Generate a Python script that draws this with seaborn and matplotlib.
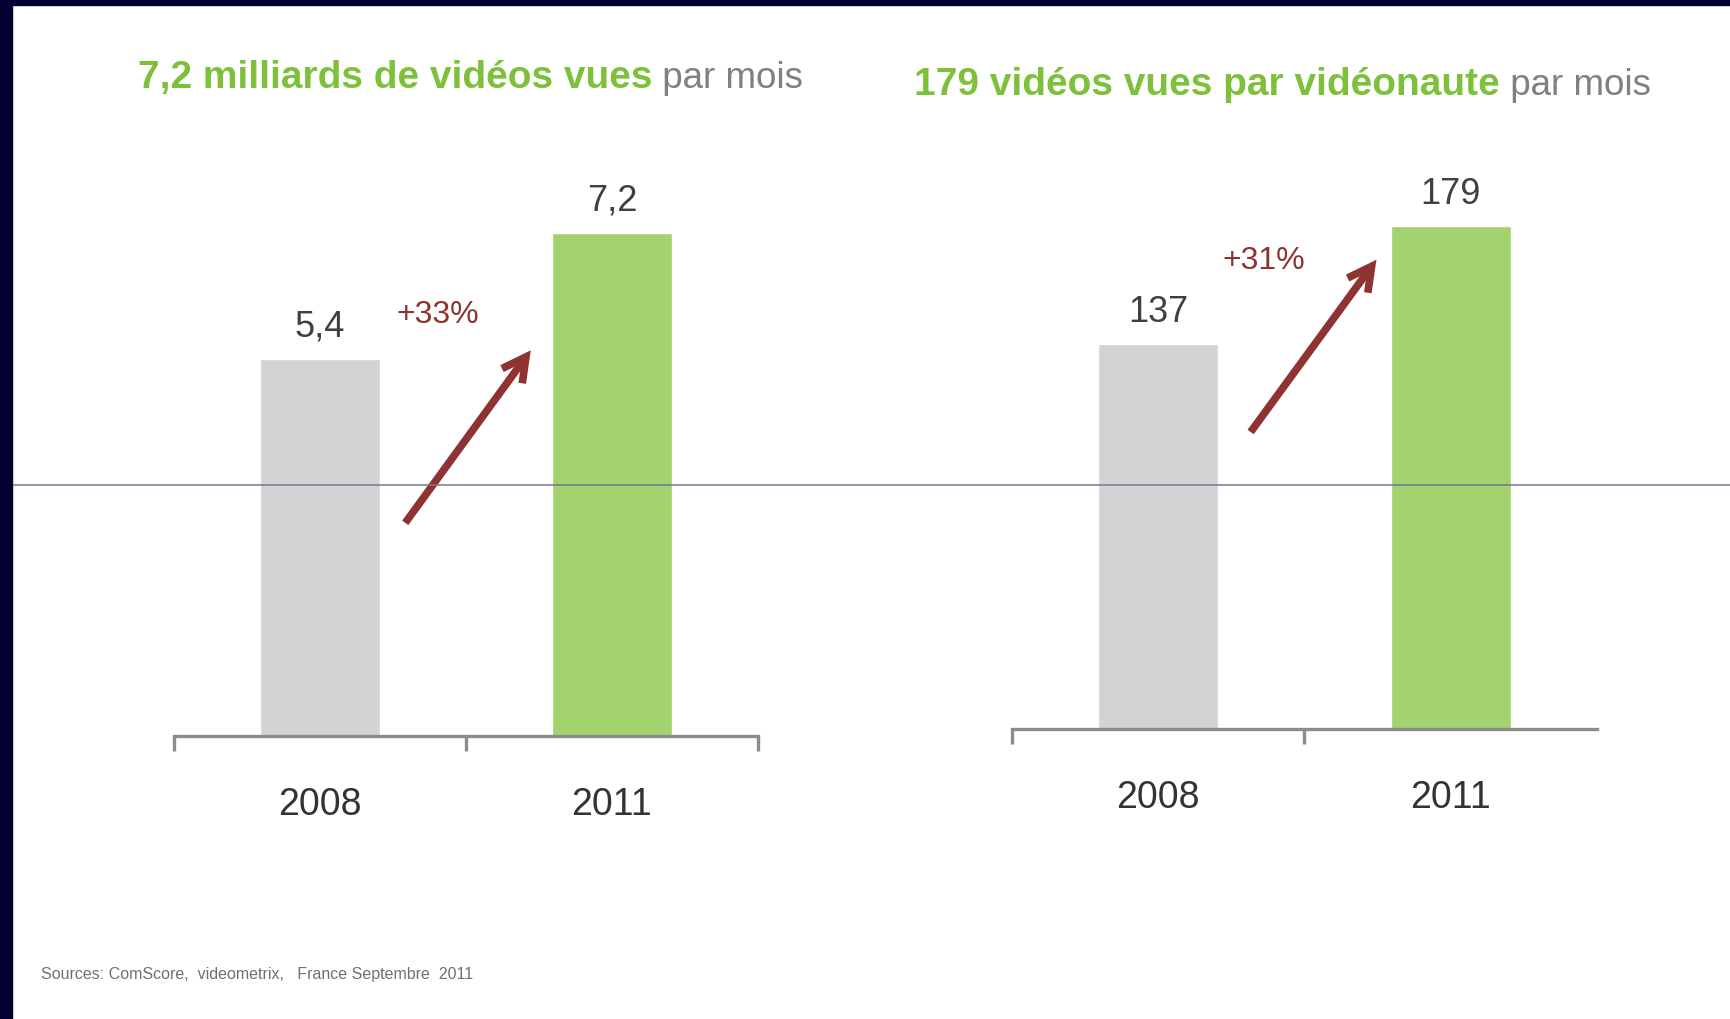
import matplotlib
matplotlib.use("Agg")
from matplotlib import pyplot as plt
from matplotlib.lines import Line2D
from matplotlib.patches import Rectangle, FancyArrowPatch
import seaborn as sns
import pandas as pd


# ---- Data --------------------------------------------------------------------

years = ["2008", "2011"]
videos_billions = [5.4, 7.2]
videos_per_user = [137, 179]
value_labels_left = ["5,4", "7,2"]
value_labels_right = ["137", "179"]
growth_left = "+33%"
growth_right = "+31%"
title_left = ("7,2 milliards de vidéos vues", " par mois")
title_right = ("179 vidéos vues par vidéonaute", " par mois")
source_text = "Sources: ComScore,  videometrix,   France Septembre  2011"


# ---- Style -------------------------------------------------------------------

sns.set_style("white")
plt.rcParams["font.family"] = ["Liberation Sans Narrow", "Liberation Sans", "DejaVu Sans"]

GREY_BAR = "#d3d3d3"
GREEN_BAR = "#a2d36e"
GREEN_TXT = "#7dc13a"
GREY_TXT = "#808080"
ARROW_RED = "#8e3232"
AXIS_GREY = "#8c8c8c"
NAVY = "#000033"


# ---- Plotting ----------------------------------------------------------------

def plot_panel(ax, values, labels, ymax, ends_ticks):
    df = pd.DataFrame({"year": years, "value": values})
    sns.barplot(data=df, x="year", y="value", hue="year",
                palette=[GREY_BAR, GREEN_BAR], width=0.41,
                legend=False, ax=ax, saturation=1)
    ax.set_xlim(-0.5, 1.5)
    ax.set_ylim(0, ymax)
    ax.set_xlabel("")
    ax.set_ylabel("")
    ax.set_yticks([])
    for side in ["left", "right", "top"]:
        ax.spines[side].set_visible(False)
    ax.spines["bottom"].set_color(AXIS_GREY)
    ax.spines["bottom"].set_linewidth(2.4)
    ax.tick_params(axis="x", which="major", length=0, pad=36,
                   labelsize=27, labelcolor="#333333")
    ax.set_xticks(ends_ticks, minor=True)
    ax.tick_params(axis="x", which="minor", bottom=True, length=11,
                   width=2.4, color=AXIS_GREY, direction="out")
    for i, (v, lab) in enumerate(zip(values, labels)):
        ax.text(i, v + ymax * 0.027, lab, ha="center", va="bottom",
                fontsize=26, color="#404040")


def add_arrow(ax, start, end):
    ax.add_patch(FancyArrowPatch(start, end,
                                 arrowstyle="->,head_length=17,head_width=9",
                                 mutation_scale=1, lw=5.5, color=ARROW_RED,
                                 shrinkA=0, shrinkB=0,
                                 capstyle="butt", joinstyle="miter"))


def add_title(ax, x, y, parts):
    t = ax.figure.text(x, y, parts[0], fontsize=28, fontweight="bold",
                       color=GREEN_TXT, ha="left", va="baseline")
    ax.annotate(parts[1], xy=(1, 0), xycoords=t, fontsize=26.5,
                color=GREY_TXT, ha="left", va="bottom",
                annotation_clip=False)


fig = plt.figure(figsize=(17.31, 10.20), dpi=100)
fig.patch.set_facecolor("white")

ax1 = fig.add_axes([0.1005, 0.2775, 0.3374, 0.548])
ax2 = fig.add_axes([0.5846, 0.2843, 0.3380, 0.551])

plot_panel(ax1, videos_billions, value_labels_left, 8.0, [-0.5, 0.5, 1.5])
plot_panel(ax2, videos_per_user, value_labels_right, 200.0, [-0.5, 0.5])

# growth arrows and labels
add_arrow(ax1, (0.292, 3.05), (0.722, 5.52))
ax1.text(0.404, 6.04, growth_left, ha="center", va="center",
         fontsize=23, color=ARROW_RED)
add_arrow(ax2, (0.316, 105.7), (0.746, 167))
ax2.text(0.36, 167, growth_right, ha="center", va="center",
         fontsize=23, color=ARROW_RED)

# titles (two colours)
add_title(ax1, 138 / 1731, 1 - 88 / 1020, title_left)
add_title(ax2, 914 / 1731, 1 - 95 / 1020, title_right)

# source
fig.text(41 / 1731, 1 - 974 / 1020, source_text, fontsize=11.5,
         color="#707070", ha="left", va="center")

# thin horizontal rule across the slide
fig.add_artist(Line2D([0, 1], [1 - 486 / 1020] * 2, color="#7a7396",
                      lw=1.1, zorder=10))

# navy frame (left and top)
fig.add_artist(Rectangle((0, 0), 12 / 1731, 1, color=NAVY, zorder=20))
fig.add_artist(Rectangle((0, 1 - 6 / 1020), 1, 6 / 1020, color=NAVY, zorder=20))

fig.savefig("out.png", dpi=100)
